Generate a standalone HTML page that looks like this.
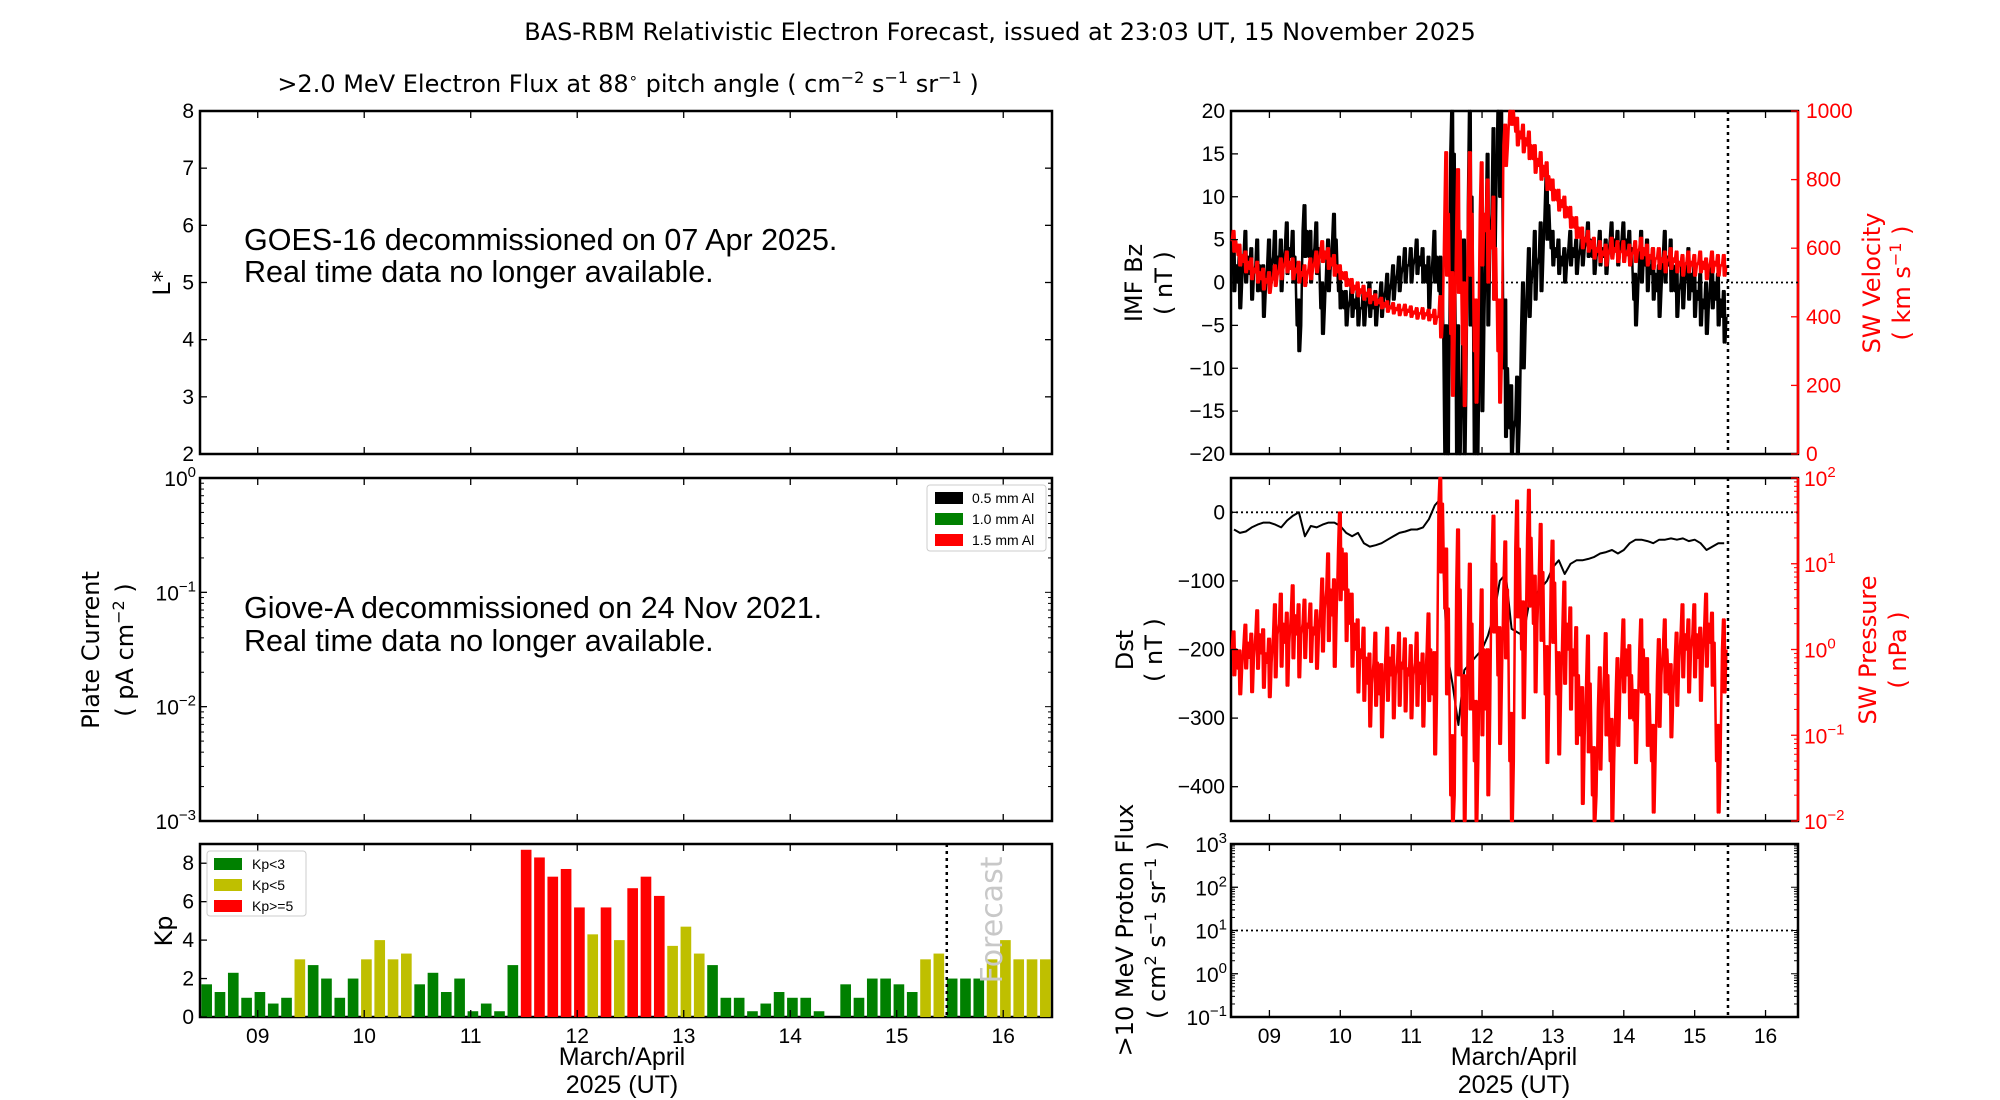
<!DOCTYPE html>
<html><head><meta charset="utf-8">
<style>
html,body{margin:0;padding:0;background:#fff;}
svg{display:block;font-family:"Liberation Sans Narrow","Liberation Sans",sans-serif;}
.t{font-family:"DejaVu Sans","Liberation Sans",sans-serif;}
</style></head>
<body>
<svg id="fig" xmlns="http://www.w3.org/2000/svg" width="2000" height="1100" viewBox="0 0 2000 1100">
<rect x="0" y="0" width="2000" height="1100" fill="#fff"/>
<text class="t" x="1000" y="40" font-size="24" text-anchor="middle">BAS-RBM Relativistic Electron Forecast, issued at 23:03 UT, 15 November 2025</text>
<text class="t" x="628" y="92" font-size="24" text-anchor="middle">&gt;2.0 MeV Electron Flux at 88<tspan dy="-9" font-size="15">∘</tspan><tspan dy="9"> pitch angle ( cm</tspan><tspan dy="-9" font-size="16">−2</tspan><tspan dy="9"> s</tspan><tspan dy="-9" font-size="16">−1</tspan><tspan dy="9"> sr</tspan><tspan dy="-9" font-size="16">−1</tspan><tspan dy="9"> )</tspan></text>
<g id="layer"></g>
</svg>
<script>
// ---- Data ----
const kpValues = [1.7,1.3,2.3,1.0,1.3,0.7,1.0,3.0,2.7,2.0,1.0,2.0,3.0,4.0,3.0,3.3,1.7,2.3,1.3,2.0,0.3,0.7,0.3,2.7,8.7,8.3,7.3,7.7,5.7,4.3,5.7,4.0,6.7,7.3,6.3,3.7,4.7,3.3,2.7,1.0,1.0,0.3,0.7,1.3,1.0,1.0,0.3,0,1.7,1.0,2.0,2.0,1.7,1.3,3.0,3.3,2.0,2.0,2.0,3.0,4.0,3.0,3.0,3.0];
const kpStartDay = 8.458;
const kpStepDays = 0.125;
const xDayTicks = [9,10,11,12,13,14,15,16];
const xTickLabels = ["09","10","11","12","13","14","15","16"];
const seriesStartDay = 8.5;
const seriesStepDays = 1/12;
const bzValues = [2,0,3,1,2,-1,
 2,3,2,4,3,-5,6,3,4,-3,2,5,
 -1,-3,-2,-3,-3,-2,-3,-2,-1,0,1,2,
 2,3,2,0,3,-1,-20,15,-20,-10,10,-20,
 -5,5,8,20,-10,-17,-16,-5,0,2,3,9,
 4,3,2,4,3,4,5,3,4,3,5,4,
 5,4,-2,3,2,1,-1,3,2,-1,0,1,
 -1,-2,-3,0,-2,-4];
const bzSpread = [3,3,3,3,3,3,
 3,3,3,3,3,3,3,3,3,3,3,3,
 2,2,2,2,2,2,2,2,2,2,2,2,
 2,2,2,3,3,4,15,15,15,15,15,15,
 10,10,10,10,8,5,5,5,4,4,4,4,
 2,2,2,2,2,2,2,2,2,2,2,2,
 2,2,3,3,3,3,3,3,3,3,3,3,
 3,3,3,3,3,3];
const velocityValues = [620,580,560,540,530,510,
 500,520,540,560,540,530,520,540,560,590,570,550,
 530,510,490,480,470,460,450,440,430,425,420,420,
 415,410,410,405,400,400,700,350,650,320,700,300,
 700,650,600,300,900,1000,940,920,900,860,840,810,
 770,740,720,690,660,630,620,600,590,580,600,590,
 590,580,590,600,580,570,570,560,570,560,550,560,
 550,560,540,560,550,550];
const velocitySpread = [30,30,30,30,30,30,
 30,30,30,30,30,30,30,30,30,30,30,30,
 20,20,20,20,20,20,15,15,15,15,15,15,
 15,15,15,15,20,60,180,180,180,180,180,150,
 150,150,150,150,60,40,40,40,40,40,40,40,
 30,30,30,30,30,30,30,30,30,30,30,30,
 30,30,30,30,30,30,30,30,30,30,30,30,
 30,30,30,30,30,30];
const dstValues = [-25,-30,-28,-22,-18,-15,
 -15,-18,-22,-12,-5,0,-35,-20,-22,-18,-15,-15,
 -20,-30,-35,-30,-45,-50,-48,-45,-40,-35,-30,-28,
 -25,-25,-22,-10,10,20,-200,-250,-310,-230,-220,-210,
 -200,-180,-150,-100,-90,-170,-175,-180,-130,-120,-110,-100,
 -80,-70,-90,-75,-70,-70,-68,-65,-60,-58,-55,-60,
 -55,-45,-40,-40,-42,-45,-40,-40,-38,-40,-38,-42,
 -40,-45,-55,-50,-45,-45];
const pressureValues = [1.0,0.6,1.2,0.8,1.5,0.9,
 0.7,1.5,2,1.2,2.5,1.5,2,1.8,1.5,3,5,2.5,
 15,5,2,1,0.8,0.4,0.7,0.3,0.8,0.5,0.7,0.6,
 0.5,0.7,0.4,1,0.3,50,3,0.02,5,0.1,2,0.05,
 1,0.2,10,0.5,5,0.05,15,1,20,2,8,0.3,
 6,0.3,2,1,0.5,0.1,0.4,0.02,0.2,0.5,0.05,0.3,
 1,0.5,0.15,1,0.3,0.05,0.5,1,0.3,0.7,1.5,1,
 1.5,0.8,2,1.2,0.05,1];
const pressureSpreadDecades = [0.3,0.3,0.3,0.4,0.4,0.4,
 0.4,0.5,0.5,0.5,0.5,0.5,0.4,0.4,0.4,0.5,0.6,0.6,
 0.6,0.6,0.5,0.5,0.5,0.5,0.5,0.5,0.5,0.5,0.5,0.5,
 0.5,0.5,0.5,0.6,0.7,0.8,1.0,1.0,1.0,1.0,1.0,1.0,
 1.0,1.0,0.8,0.8,0.8,0.8,0.8,0.8,0.8,0.8,0.8,0.8,
 0.7,0.7,0.7,0.7,0.8,0.8,0.8,0.8,0.7,0.7,0.7,0.6,
 0.5,0.5,0.5,0.5,0.6,0.6,0.6,0.5,0.5,0.5,0.5,0.5,
 0.5,0.5,0.5,0.5,0.6,0.5];
const forecastDay = 15.47;

// ---- Layout ----
const NS="http://www.w3.org/2000/svg";
const layer=document.getElementById('layer');
const X0=8.458, X1=16.458;
const L={x0:200,x1:1052}, R={x0:1231,x1:1798};
const P1={y0:111,y1:454}, P2={y0:478,y1:821}, P3={y0:844,y1:1017};
function mk(tag,attrs,parent){const e=document.createElementNS(NS,tag);for(const k in attrs)e.setAttribute(k,attrs[k]);(parent||layer).appendChild(e);return e;}
function xs(c){return d=>c.x0+(d-X0)/(X1-X0)*(c.x1-c.x0);}
function lin(a,b,y0,y1){return v=>y1-(v-a)/(b-a)*(y1-y0);}
function logs(a,b,y0,y1){return v=>y1-(Math.log10(v)-a)/(b-a)*(y1-y0);}
function txt(s,x,y,size,anchor,fill,name,rot){const t=mk('text',{x:x,y:y,'font-size':size,'text-anchor':anchor||'middle',fill:fill||'#000'});
 
 
 if(rot)t.setAttribute('transform','rotate(-90 '+x+' '+y+')');t.textContent=s;return t;}
function frame(c,p,name,rightColor){const g=mk('g',{});
 
 
 mk('rect',{x:c.x0,y:p.y0,width:c.x1-c.x0,height:p.y1-p.y0,fill:'none',stroke:'#000','stroke-width':2.5},g);
 if(rightColor)mk('line',{x1:c.x1,y1:p.y0,x2:c.x1,y2:p.y1,stroke:rightColor,'stroke-width':2.5},g);
 return g;}
function xticks(c,p,labels){const X=xs(c);xDayTicks.forEach((d,i)=>{
 mk('line',{x1:X(d),y1:p.y1,x2:X(d),y2:p.y1-7,stroke:'#000','stroke-width':1.3});
 mk('line',{x1:X(d),y1:p.y0,x2:X(d),y2:p.y0+7,stroke:'#000','stroke-width':1.3});
 if(labels)txt(xTickLabels[i],X(d),p.y1+26,21,'middle','#000','x-tick-label');});}
function yticks(c,p,vals,Y,labels,side,color){vals.forEach((v,i)=>{const y=Y(v);
 const x=side==='r'?c.x1:c.x0, dx=side==='r'?-7:7;
 mk('line',{x1:x,y1:y,x2:x+dx,y2:y,stroke:color||'#000','stroke-width':1.3});
 if(labels){txt(labels[i],side==='r'?x+8:x-6,y+7,21,side==='r'?'start':'end',color||'#000','y-tick-label');}});}
function logLabels(c,p,exps,Y,side,color){exps.forEach(e=>{const y=Y(Math.pow(10,e));const x=side==='r'?c.x1:c.x0;
 mk('line',{x1:x,y1:y,x2:x+(side==='r'?-7:7),y2:y,stroke:color||'#000','stroke-width':1.3});
 for(let m=2;m<10;m++){const v=m*Math.pow(10,e);const yy=Y(v);if(yy<p.y0)break;mk('line',{x1:x,y1:yy,x2:x+(side==='r'?-4:4),y2:yy,stroke:color||'#000','stroke-width':1});}
 const t=mk('text',{x:side==='r'?x+6:x-4,y:y+8,'font-size':21,'text-anchor':side==='r'?'start':'end',fill:color||'#000'});
 
 
 t.innerHTML='10<tspan dy="-9" font-size="15">'+(e<0?'−'+(-e):e)+'</tspan>';});}
function vline(c,p,d){const X=xs(c);const l=mk('line',{x1:X(d),y1:p.y0,x2:X(d),y2:p.y1,stroke:'#000','stroke-width':2.5,'stroke-dasharray':'3,4'});
 
 }
function hline(c,y){const l=mk('line',{x1:c.x0,y1:y,x2:c.x1,y2:y,stroke:'#000','stroke-width':1.8,'stroke-dasharray':'2,3'});
 
 }
function clampY(y,yl,yh){return Math.max(yl,Math.min(yh,y));}
// noisy series: zig-zag between value-spread and value+spread around each sample
function series(c,vals,spread,Y,color,name,w,yl,yh,logMode){const X=xs(c);let d='';
 vals.forEach((v,i)=>{const x=X(seriesStartDay+i*seriesStepDays);const s=spread?spread[i]:0;const dx=(X(seriesStepDays)-X(0))/4;
  let lo,hi;
  if(logMode){lo=v/Math.pow(10,s);hi=v*Math.pow(10,s*0.7);}else{lo=v-s;hi=v+s;}
  const pts=spread?[[x-dx*1.5,Y(v)],[x-dx*0.8,Y(hi)],[x-dx*0.3,Y(lo)],[x+dx*0.3,Y(hi)],[x+dx*0.8,Y(lo)],[x+dx*1.5,Y(v)]]:[[x,Y(v)]];
  pts.forEach((p,j)=>{d+=((i||j)?'L':'M')+p[0].toFixed(1)+' '+clampY(p[1],yl,yh).toFixed(1);});});
 const p=mk('path',{d:d,fill:'none',stroke:color,'stroke-width':w,'stroke-linejoin':'round'});
 
 }

// ---- Panel 1: electron flux ----
frame(L,P1,'electron-flux-panel');
const Ylstar=lin(2,8,P1.y0,P1.y1);
yticks(L,P1,[2,3,4,5,6,7,8],Ylstar,['2','3','4','5','6','7','8'],'l');
yticks(L,P1,[2,3,4,5,6,7,8],Ylstar,null,'r');
xticks(L,P1,false);
txt('L*',170,283,24,'middle','#000','lstar-axis-title',true).setAttribute('class','t');
txt('GOES-16 decommissioned on 07 Apr 2025.',244,250,30.5,'start','#000','goes-notice');
txt('Real time data no longer available.',244,282,30.5,'start','#000','goes-notice-line2');

// ---- Panel 2: plate current ----
frame(L,P2,'plate-current-panel');
const Ypc=logs(-3,0,P2.y0,P2.y1);
logLabels(L,P2,[-3,-2,-1,0],Ypc,'l');
[-3,-2,-1].forEach(e=>{for(let m=1;m<10;m++){const yy=Ypc(m*Math.pow(10,e));mk('line',{x1:L.x1,y1:yy,x2:L.x1-(m===1?7:4),y2:yy,stroke:'#000','stroke-width':1});}});
xticks(L,P2,false);
{const t=mk('text',{x:99,y:650,'font-size':24,'text-anchor':'middle',class:'t',transform:'rotate(-90 99 650)'});
 
 
 t.textContent='Plate Current';
 const t2=mk('text',{x:133,y:650,'font-size':24,'text-anchor':'middle',class:'t',transform:'rotate(-90 133 650)'});
 
 
 t2.innerHTML='( pA cm<tspan dy="-9" font-size="16">−2</tspan><tspan dy="9"> )</tspan>';}
txt('Giove-A decommissioned on 24 Nov 2021.',244,618,30.5,'start','#000','giove-notice');
txt('Real time data no longer available.',244,651,30.5,'start','#000','giove-notice-line2');
{const g=mk('g',{});
 mk('rect',{x:927,y:485,width:119,height:66,fill:'#fff',stroke:'#ccc','stroke-width':1,rx:3},g);
 [['#000','0.5 mm Al'],['#008000','1.0 mm Al'],['#f00','1.5 mm Al']].forEach((e,i)=>{
  mk('rect',{x:935,y:492+i*21,width:28,height:12,fill:e[0]},g);
  const t=mk('text',{x:972,y:503+i*21,'font-size':14},g);
  
  
  t.textContent=e[1];});}

// ---- Panel 3: Kp ----
frame(L,P3,'kp-panel');
const Ykp=lin(0,9,P3.y0,P3.y1);const XL=xs(L);
kpValues.forEach((v,i)=>{const d=kpStartDay+(i+0.5)*kpStepDays;const w=(XL(kpStepDays)-XL(0))*0.8;
 const col=v>=5?'#ff0000':(v>=3?'#bfbf00':'#008000');
 const b=mk('rect',{x:XL(d)-w/2,y:Ykp(v),width:w,height:Ykp(0)-Ykp(v),fill:col});
 
 });
yticks(L,P3,[0,2,4,6,8],Ykp,['0','2','4','6','8'],'l');
xticks(L,P3,true);
vline(L,P3,forecastDay);
{const t=txt('Forecast',1002,920,30,'middle','#c8c8c8','forecast-label',true);t.setAttribute('class','t');}
txt('Kp',172,931,24,'middle','#000','kp-axis-title',true).setAttribute('class','t');
{const g=mk('g',{});
 mk('rect',{x:207,y:851,width:99,height:65,fill:'#fff',stroke:'#ccc','stroke-width':1,rx:3},g);
 [['#008000','Kp<3'],['#bfbf00','Kp<5'],['#ff0000','Kp>=5']].forEach((e,i)=>{
  mk('rect',{x:214,y:858+i*21,width:28,height:12,fill:e[0]},g);
  const t=mk('text',{x:252,y:869+i*21,'font-size':14},g);
  
  
  t.textContent=e[1];});}
txt('March/April',622,1065,25,'middle','#000','left-x-axis-title');
txt('2025 (UT)',622,1093,25,'middle','#000','left-x-axis-subtitle');

// ---- Right panel 1: Bz / velocity ----
frame(R,P1,'imf-bz-panel','#ff0000');
const Ybz=lin(-20,20,P1.y0,P1.y1), Yv=lin(0,1000,P1.y0,P1.y1);
hline(R,Ybz(0));
series(R,bzValues,bzSpread,Ybz,'#000','imf-bz-line',2.5,P1.y0,P1.y1,false);
series(R,velocityValues,velocitySpread,Yv,'#ff0000','sw-velocity-line',2.5,P1.y0,P1.y1,false);
yticks(R,P1,[-20,-15,-10,-5,0,5,10,15,20],Ybz,['−20','−15','−10','−5','0','5','10','15','20'],'l');
yticks(R,P1,[0,200,400,600,800,1000],Yv,['0','200','400','600','800','1000'],'r','#ff0000');
xticks(R,P1,false);
vline(R,P1,forecastDay);
txt('IMF Bz',1142,283,24,'middle','#000','imf-bz-axis-title',true).setAttribute('class','t');
txt('( nT )',1172,283,24,'middle','#000','imf-bz-units',true).setAttribute('class','t');
txt('SW Velocity',1880,283,24,'middle','#ff0000','sw-velocity-axis-title',true).setAttribute('class','t');
{const t=mk('text',{x:1910,y:283,'font-size':24,'text-anchor':'middle',fill:'#ff0000',class:'t',transform:'rotate(-90 1910 283)'});
 
 
 t.innerHTML='( km s<tspan dy="-9" font-size="16">−1</tspan><tspan dy="9"> )</tspan>';}

// ---- Right panel 2: Dst / pressure ----
frame(R,P2,'dst-panel','#ff0000');
const Ydst=lin(-450,50,P2.y0,P2.y1), Yp=logs(-2,2,P2.y0,P2.y1);
hline(R,Ydst(0));
series(R,dstValues,null,Ydst,'#000','dst-line',2,P2.y0,P2.y1,false);
series(R,pressureValues,pressureSpreadDecades,Yp,'#ff0000','sw-pressure-line',2.5,P2.y0,P2.y1,true);
yticks(R,P2,[-400,-300,-200,-100,0],Ydst,['−400','−300','−200','−100','0'],'l');
logLabels(R,P2,[-2,-1,0,1,2],Yp,'r','#ff0000');
xticks(R,P2,false);
vline(R,P2,forecastDay);
txt('Dst',1133,650,24,'middle','#000','dst-axis-title',true).setAttribute('class','t');
txt('( nT )',1162,650,24,'middle','#000','dst-units',true).setAttribute('class','t');
txt('SW Pressure',1876,650,24,'middle','#ff0000','sw-pressure-axis-title',true).setAttribute('class','t');
txt('( nPa )',1906,650,24,'middle','#ff0000','sw-pressure-units',true).setAttribute('class','t');

// ---- Right panel 3: protons ----
frame(R,P3,'proton-flux-panel');
const Ypf=logs(-1,3,P3.y0,P3.y1);
hline(R,Ypf(10));
logLabels(R,P3,[-1,0,1,2,3],Ypf,'l');
[-1,0,1,2].forEach(e=>{for(let m=1;m<10;m++){const yy=Ypf(m*Math.pow(10,e));mk('line',{x1:R.x1,y1:yy,x2:R.x1-(m===1?7:4),y2:yy,stroke:'#000','stroke-width':1});}});
xticks(R,P3,true);
vline(R,P3,forecastDay);
txt('>10 MeV Proton Flux',1133,930,24,'middle','#000','proton-axis-title',true).setAttribute('class','t');
{const t=mk('text',{x:1165,y:930,'font-size':24,'text-anchor':'middle',class:'t',transform:'rotate(-90 1165 930)'});
 
 
 t.innerHTML='( cm<tspan dy="-9" font-size="16">2</tspan><tspan dy="9"> s</tspan><tspan dy="-9" font-size="16">−1</tspan><tspan dy="9"> sr</tspan><tspan dy="-9" font-size="16">−1</tspan><tspan dy="9"> )</tspan>';}
txt('March/April',1514,1065,25,'middle','#000','right-x-axis-title');
txt('2025 (UT)',1514,1093,25,'middle','#000','right-x-axis-subtitle');
</script>
</body></html>
